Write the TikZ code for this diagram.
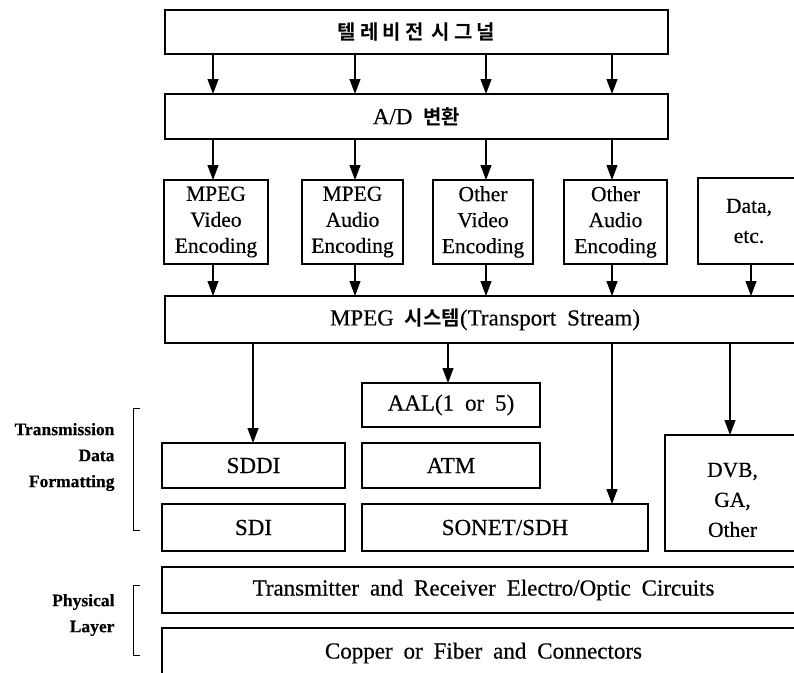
\documentclass[tikz,border=0pt]{standalone}
\usepackage{fontspec}
\usetikzlibrary{arrows.meta}
\setmainfont{Liberation Serif}[WordSpace=1.9, FakeBold=0.4]
\newfontfamily\kofont{Noto Sans CJK KR}[BoldFont=* Bold]
\newfontfamily\kowide{Noto Sans CJK KR}[BoldFont=* Bold, LetterSpace=20]

\begin{document}
\begin{tikzpicture}[x=1pt,y=-1pt,
  box/.style={draw, line width=1.1pt, inner sep=0pt, outer sep=0pt,
    anchor=north west, align=center, font=\fontsize{23}{28}\selectfont},
  enc/.style={box, font=\fontsize{21.5}{26}\selectfont},
  arr/.style={line width=1.1pt, -{Triangle[width=11pt,length=15pt]}},
  side/.style={anchor=east, align=right, font=\bfseries\fontsize{17.5}{26}\selectfont},
  brk/.style={line width=1pt}]

\useasboundingbox (0,0) rectangle (794,672);
\clip (0,0) rectangle (794,672);

% signal chain
\node[box, minimum width=503pt, minimum height=44pt] (tv) at (165,10)
  {\kowide\bfseries\fontsize{20}{24}\selectfont 텔레비전 시그널};
\node[box, minimum width=503pt, minimum height=45pt] (ad) at (165,94)
  {A/D {\kofont\bfseries\fontsize{20}{24}\selectfont 변환}};

% encoders
\node[enc, minimum width=104pt, minimum height=84pt] (mv) at (164,180) {MPEG\\Video\\Encoding};
\node[enc, minimum width=101pt, minimum height=84pt] (ma) at (302,180) {MPEG\\Audio\\Encoding};
\node[enc, minimum width=100pt, minimum height=84pt] (ov) at (433,180) {Other\\Video\\Encoding};
\node[enc, minimum width=103pt, minimum height=84pt] (oa) at (564,180) {Other\\Audio\\Encoding};
\node[enc, minimum width=102pt, minimum height=86pt, font=\fontsize{21.5}{30}\selectfont] (dt) at (698,178) {Data,\\etc.};

% transport stream
\node[box, minimum width=640pt, minimum height=47pt] (sys) at (165,296)
  {MPEG {\kofont\bfseries\fontsize{20}{24}\selectfont 시스템}(Transport Stream)};

% transmission data formatting
\node[box, minimum width=178pt, minimum height=44pt] (aal) at (362,383) {AAL(1 or 5)};
\node[box, minimum width=183pt, minimum height=45pt] (sddi) at (162,443) {SDDI};
\node[box, minimum width=178pt, minimum height=45pt] (atm) at (362,443) {ATM};
\node[box, minimum width=183pt, minimum height=47pt] (sdi) at (162,504) {SDI};
\node[box, minimum width=286pt, minimum height=47pt] (sonet) at (362,504) {SONET/SDH};
\node[box, minimum width=135pt, minimum height=116pt,
  font=\fontsize{21.5}{30}\selectfont] (dvb) at (665,435) {\rule{0pt}{28pt}DVB,\\GA,\\Other};

% physical layer
\node[box, minimum width=643pt, minimum height=46pt] (trx) at (162,567) {Transmitter and Receiver Electro/Optic Circuits};
\node[box, minimum width=643pt, minimum height=50pt] (cu) at (162,628) {Copper or Fiber and Connectors};

% layer labels and brackets
\node[side] (tdf) at (118,457) {Transmission\\Data\\Formatting};
\node[side] (phy) at (118,615) {Physical\\Layer};
\draw[brk] (140,408) -- (133,408) -- (133,530) -- (140,530);
\draw[brk] (140,585) -- (133,585) -- (133,655) -- (140,655);

% connector columns
\coordinate (c1) at (213,0);
\coordinate (c2) at (355,0);
\coordinate (c3) at (486,0);
\coordinate (c4) at (612,0);
\coordinate (c5) at (751,0);
\coordinate (d1) at (253,0);
\coordinate (d2) at (448,0);
\coordinate (d4) at (730,0);

\foreach \c in {c1,c2,c3,c4}
  \draw[arr] (tv.south -| \c) -- (ad.north -| \c);

\draw[arr] (ad.south -| c1) -- (mv.north -| c1);
\draw[arr] (ad.south -| c2) -- (ma.north -| c2);
\draw[arr] (ad.south -| c3) -- (ov.north -| c3);
\draw[arr] (ad.south -| c4) -- (oa.north -| c4);

\draw[arr] (mv.south -| c1) -- (sys.north -| c1);
\draw[arr] (ma.south -| c2) -- (sys.north -| c2);
\draw[arr] (ov.south -| c3) -- (sys.north -| c3);
\draw[arr] (oa.south -| c4) -- (sys.north -| c4);
\draw[arr] (dt.south -| c5) -- (sys.north -| c5);

\draw[arr] (sys.south -| d1) -- (sddi.north -| d1);
\draw[arr] (sys.south -| d2) -- (aal.north -| d2);
\draw[arr] (sys.south -| c4) -- (sonet.north -| c4);
\draw[arr] (sys.south -| d4) -- (dvb.north -| d4);
\end{tikzpicture}
\end{document}
